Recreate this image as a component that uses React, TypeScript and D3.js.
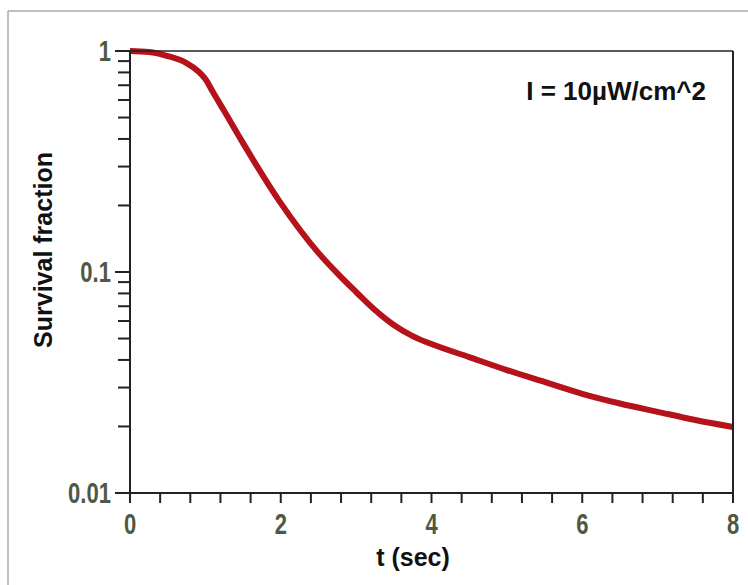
import * as d3 from "d3";

// survival curve
const times = [
  0, 0.25, 0.5, 0.75, 0.9, 1, 1.1, 1.25, 1.5, 2, 2.5, 2.8, 3, 3.25, 3.5, 3.75, 4, 4.5, 5, 5.5, 6, 6.5, 7, 7.5, 8,
];
const survival = [
  1.0, 0.99, 0.949, 0.882, 0.812, 0.747, 0.652, 0.535, 0.383, 0.205, 0.122, 0.0948, 0.0812, 0.0673, 0.0576,
  0.0513, 0.0472, 0.0412, 0.036, 0.0318, 0.0281, 0.0254, 0.0233, 0.0214, 0.0199,
];
const xTickLabels = [0, 2, 4, 6, 8];
const yTickLabels = [1, 0.1, 0.01];
const annotation = "I = 10µW/cm^2";

const width = 748;
const height = 585;
const margin = { top: 51, right: 15, bottom: 92, left: 130 };

export default function App() {
  const x = d3.scaleLinear().domain([0, 8]).range([margin.left, width - margin.right]);
  const y = d3.scaleLog().domain([0.01, 1]).range([height - margin.bottom, margin.top]);

  const [x0, x1] = x.range();
  const [y0, y1] = y.range(); // y0 = bottom, y1 = top

  const line = d3
    .line<number>()
    .x((_, i) => x(times[i]))
    .y((d) => y(d))
    .curve(d3.curveMonotoneX);

  // minor ticks every 0.4 on the time axis
  const xTicks = d3.range(0, 8.0001, 0.4);
  // log minor ticks 2..9 per decade
  const yMinor: number[] = [];
  [0.01, 0.1].forEach((dec) => {
    for (let k = 2; k <= 9; k++) yMinor.push(dec * k);
  });

  const labelColor = "#4f5845";
  const axisColor = "#222";

  return (
    <svg
      width={width}
      height={height}
      style={{ position: "absolute", left: 0, top: 0, background: "#fff" }}
    >
      {/* outer grey frame */}
      <line x1={8} y1={11} x2={width} y2={11} stroke="#aaa" strokeWidth={1.5} />
      <line x1={8} y1={11} x2={8} y2={height} stroke="#aaa" strokeWidth={1.5} />

      {/* curve */}
      <path
        d={line(survival) || ""}
        fill="none"
        stroke="#b5121b"
        strokeWidth={6}
        strokeLinejoin="round"
      />

      {/* plot frame */}
      <line x1={x0} y1={y1} x2={x1} y2={y1} stroke={axisColor} strokeWidth={1.5} />
      <line x1={x1} y1={y1} x2={x1} y2={y0} stroke={axisColor} strokeWidth={2} />
      <line x1={x0} y1={y1} x2={x0} y2={y0} stroke={axisColor} strokeWidth={2} />
      <line x1={x0} y1={y0} x2={x1} y2={y0} stroke={axisColor} strokeWidth={2} />

      {/* x ticks */}
      {xTicks.map((t) => (
        <line key={`xt${t}`} x1={x(t)} x2={x(t)} y1={y0} y2={y0 + 10} stroke={axisColor} strokeWidth={2} />
      ))}
      {xTickLabels.map((t) => (
        <text
          key={`xl${t}`}
          transform={`translate(${x(t)}, ${y0 + 41}) scale(0.76, 1)`}
          textAnchor="middle"
          fontFamily="Liberation Sans, Arial, sans-serif"
          fontWeight="bold"
          fontSize={29}
          fill={labelColor}
        >
          {t}
        </text>
      ))}

      {/* y ticks */}
      {yMinor.map((v) => (
        <line key={`ym${v}`} x1={x0 - 12} x2={x0} y1={y(v)} y2={y(v)} stroke={axisColor} strokeWidth={2} />
      ))}
      {yTickLabels.map((v) => (
        <g key={`yl${v}`}>
          <line x1={x0 - 15} x2={x0} y1={y(v)} y2={y(v)} stroke={axisColor} strokeWidth={2} />
          <text
            transform={`translate(${x0 - 19}, ${y(v) + 10}) scale(0.76, 1)`}
            textAnchor="end"
            fontFamily="Liberation Sans, Arial, sans-serif"
            fontWeight="bold"
            fontSize={29}
            fill={labelColor}
          >
            {v}
          </text>
        </g>
      ))}

      {/* axis titles */}
      <text
        x={413}
        y={566}
        textAnchor="middle"
        fontFamily="Liberation Sans, Arial, sans-serif"
        fontWeight="bold"
        fontSize={25}
        fill="#111"
      >
        t (sec)
      </text>
      <text
        transform={`translate(52, 250) rotate(-90)`}
        textAnchor="middle"
        fontFamily="Liberation Sans, Arial, sans-serif"
        fontWeight="bold"
        fontSize={25}
        fill="#111"
      >
        Survival fraction
      </text>

      {/* intensity note */}
      <text
        x={706}
        y={100}
        textAnchor="end"
        fontFamily="Liberation Sans, Arial, sans-serif"
        fontWeight="bold"
        fontSize={26}
        fill="#111"
      >
        {annotation}
      </text>
    </svg>
  );
}
